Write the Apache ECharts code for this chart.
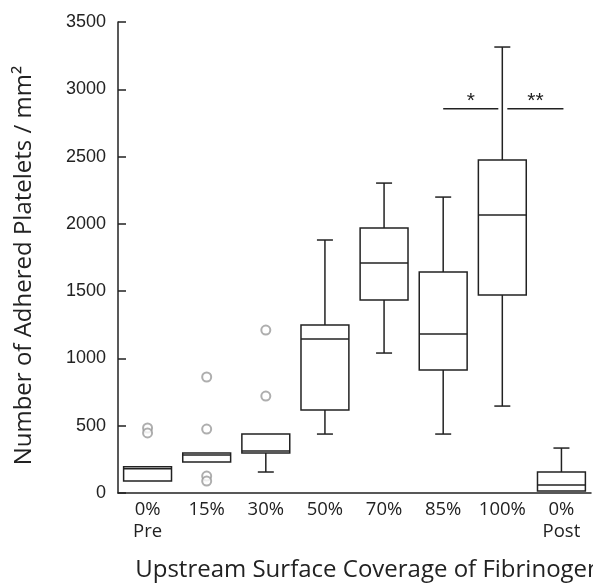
<!DOCTYPE html>
<html>
<head>
<meta charset="utf-8">
<script src="https://cdn.jsdelivr.net/npm/echarts@6/dist/echarts.min.js"></script>
<style>html,body{margin:0;padding:0;background:#fff}#c{width:593px;height:587px}</style>
</head>
<body>
<div id="c"></div>
<script>
const categories = ['0%\nPre', '15%', '30%', '50%', '70%', '85%', '100%', '0%\nPost'];
const whiskerLow  = [90, 230, 156, 438, 1040, 438, 646, 15];
const q1          = [90, 230, 297, 617, 1434, 914, 1471, 15];
const median      = [180, 282, 312, 1144, 1709, 1181, 2065, 59];
const q3          = [195, 297, 438, 1248, 1969, 1642, 2474, 156];
const whiskerHigh = [195, 297, 438, 1880, 2303, 2199, 3314, 334];
const outlierCat  = [0, 0, 1, 1, 1, 1, 2, 2];
const outlierVal  = [483, 446, 862, 475, 126, 89, 1211, 720];
const sigFrom  = [5, 6];
const sigTo    = [6, 7];
const sigLevel = [2855, 2855];
const sigLabel = ['*', '**'];
const yTicks = { min: 0, max: 3500, interval: 500 };

const ink = '#222';
const boxData = categories.map((c, i) => [i, whiskerLow[i], q1[i], median[i], q3[i], whiskerHigh[i]]);
const outData = outlierCat.map((c, i) => [c, outlierVal[i]]);
const sigData = sigFrom.map((f, i) => [f, sigTo[i], sigLevel[i], sigLabel[i]]);

const chart = echarts.init(document.getElementById('c'), null, { renderer: 'canvas' });
chart.setOption({
  animation: false,
  grid: { left: 118, right: 2, top: 22, bottom: 94, containLabel: false, outerBoundsMode: 'none' },
  xAxis: {
    type: 'category',
    data: categories,
    boundaryGap: true,
    name: 'Upstream Surface Coverage of Fibrinogen',
    nameLocation: 'middle',
    nameGap: 65,
    nameTextStyle: { fontFamily: 'Open Sans', fontSize: 24, color: ink, padding: [0, 0, 0, 28] },
    axisLine: { lineStyle: { color: ink, width: 1.5 } },
    axisTick: { inside: true, length: 7, lineStyle: { color: ink, width: 1.5 } },
    axisLabel: { fontFamily: 'Open Sans', fontSize: 18.5, color: ink, margin: 6, lineHeight: 22, interval: 0 },
    splitLine: { show: false }
  },
  yAxis: {
    type: 'value',
    min: yTicks.min, max: yTicks.max, interval: yTicks.interval,
    name: 'Number of Adhered Platelets / mm²',
    nameLocation: 'middle',
    nameGap: 82,
    nameTextStyle: { fontFamily: 'Open Sans', fontSize: 24, color: ink, padding: [0, 16, 0, 0] },
    axisLine: { show: true, lineStyle: { color: ink, width: 1.5 } },
    axisTick: { show: true, inside: true, length: 8, lineStyle: { color: ink, width: 1.5 } },
    axisLabel: { fontFamily: 'Liberation Sans', fontSize: 18, color: ink, margin: 12, formatter: v => String(v) },
    splitLine: { show: false }
  },
  series: [
    {
      type: 'custom',
      data: boxData,
      encode: { x: 0, y: [1, 2, 3, 4, 5] },
      renderItem: function (params, api) {
        const i = api.value(0);
        const lo = api.coord([i, api.value(1)]);
        const b = api.coord([i, api.value(2)]);
        const m = api.coord([i, api.value(3)]);
        const t = api.coord([i, api.value(4)]);
        const hi = api.coord([i, api.value(5)]);
        const bw = api.size([1, 0])[0] * 0.81;
        const cw = 16;
        const x = lo[0];
        const st = { stroke: ink, lineWidth: 1.5, fill: null };
        const children = [];
        if (hi[1] < t[1] - 0.5) {
          children.push({ type: 'line', shape: { x1: x, y1: t[1], x2: x, y2: hi[1] }, style: st });
          children.push({ type: 'line', shape: { x1: x - cw / 2, y1: hi[1], x2: x + cw / 2, y2: hi[1] }, style: st });
        }
        if (lo[1] > b[1] + 0.5) {
          children.push({ type: 'line', shape: { x1: x, y1: b[1], x2: x, y2: lo[1] }, style: st });
          children.push({ type: 'line', shape: { x1: x - cw / 2, y1: lo[1], x2: x + cw / 2, y2: lo[1] }, style: st });
        }
        children.push({ type: 'rect', shape: { x: x - bw / 2, y: t[1], width: bw, height: b[1] - t[1] }, style: { stroke: ink, lineWidth: 1.5, fill: '#fff' } });
        children.push({ type: 'line', shape: { x1: x - bw / 2, y1: m[1], x2: x + bw / 2, y2: m[1] }, style: st });
        return { type: 'group', children: children };
      },
      z: 3
    },
    {
      type: 'scatter',
      data: outData,
      symbol: 'emptyCircle',
      symbolSize: 9,
      itemStyle: { color: '#9a9a9a', borderColor: '#9a9a9a', borderWidth: 1.2 },
      z: 4
    },
    {
      type: 'custom',
      data: sigData,
      encode: { x: [0, 1], y: 2 },
      renderItem: function (params, api) {
        const a = api.coord([api.value(0), api.value(2)]);
        const c = api.coord([api.value(1), api.value(2)]);
        const idx = params.dataIndex;
        const x1 = a[0] + (idx === 0 ? 0 : 5);
        const x2 = c[0] + (idx === 0 ? -4 : 2);
        const y = a[1];
        return {
          type: 'group',
          children: [
            { type: 'line', shape: { x1: x1, y1: y, x2: x2, y2: y }, style: { stroke: ink, lineWidth: 1.5 } },
            { type: 'text', style: { x: (x1 + x2) / 2, y: y + 3, text: sigLabel[idx], fontFamily: 'Liberation Sans', fontSize: 21, fill: ink, align: 'center', verticalAlign: 'bottom' } }
          ]
        };
      },
      z: 5
    }
  ]
});
</script>
</body>
</html>
